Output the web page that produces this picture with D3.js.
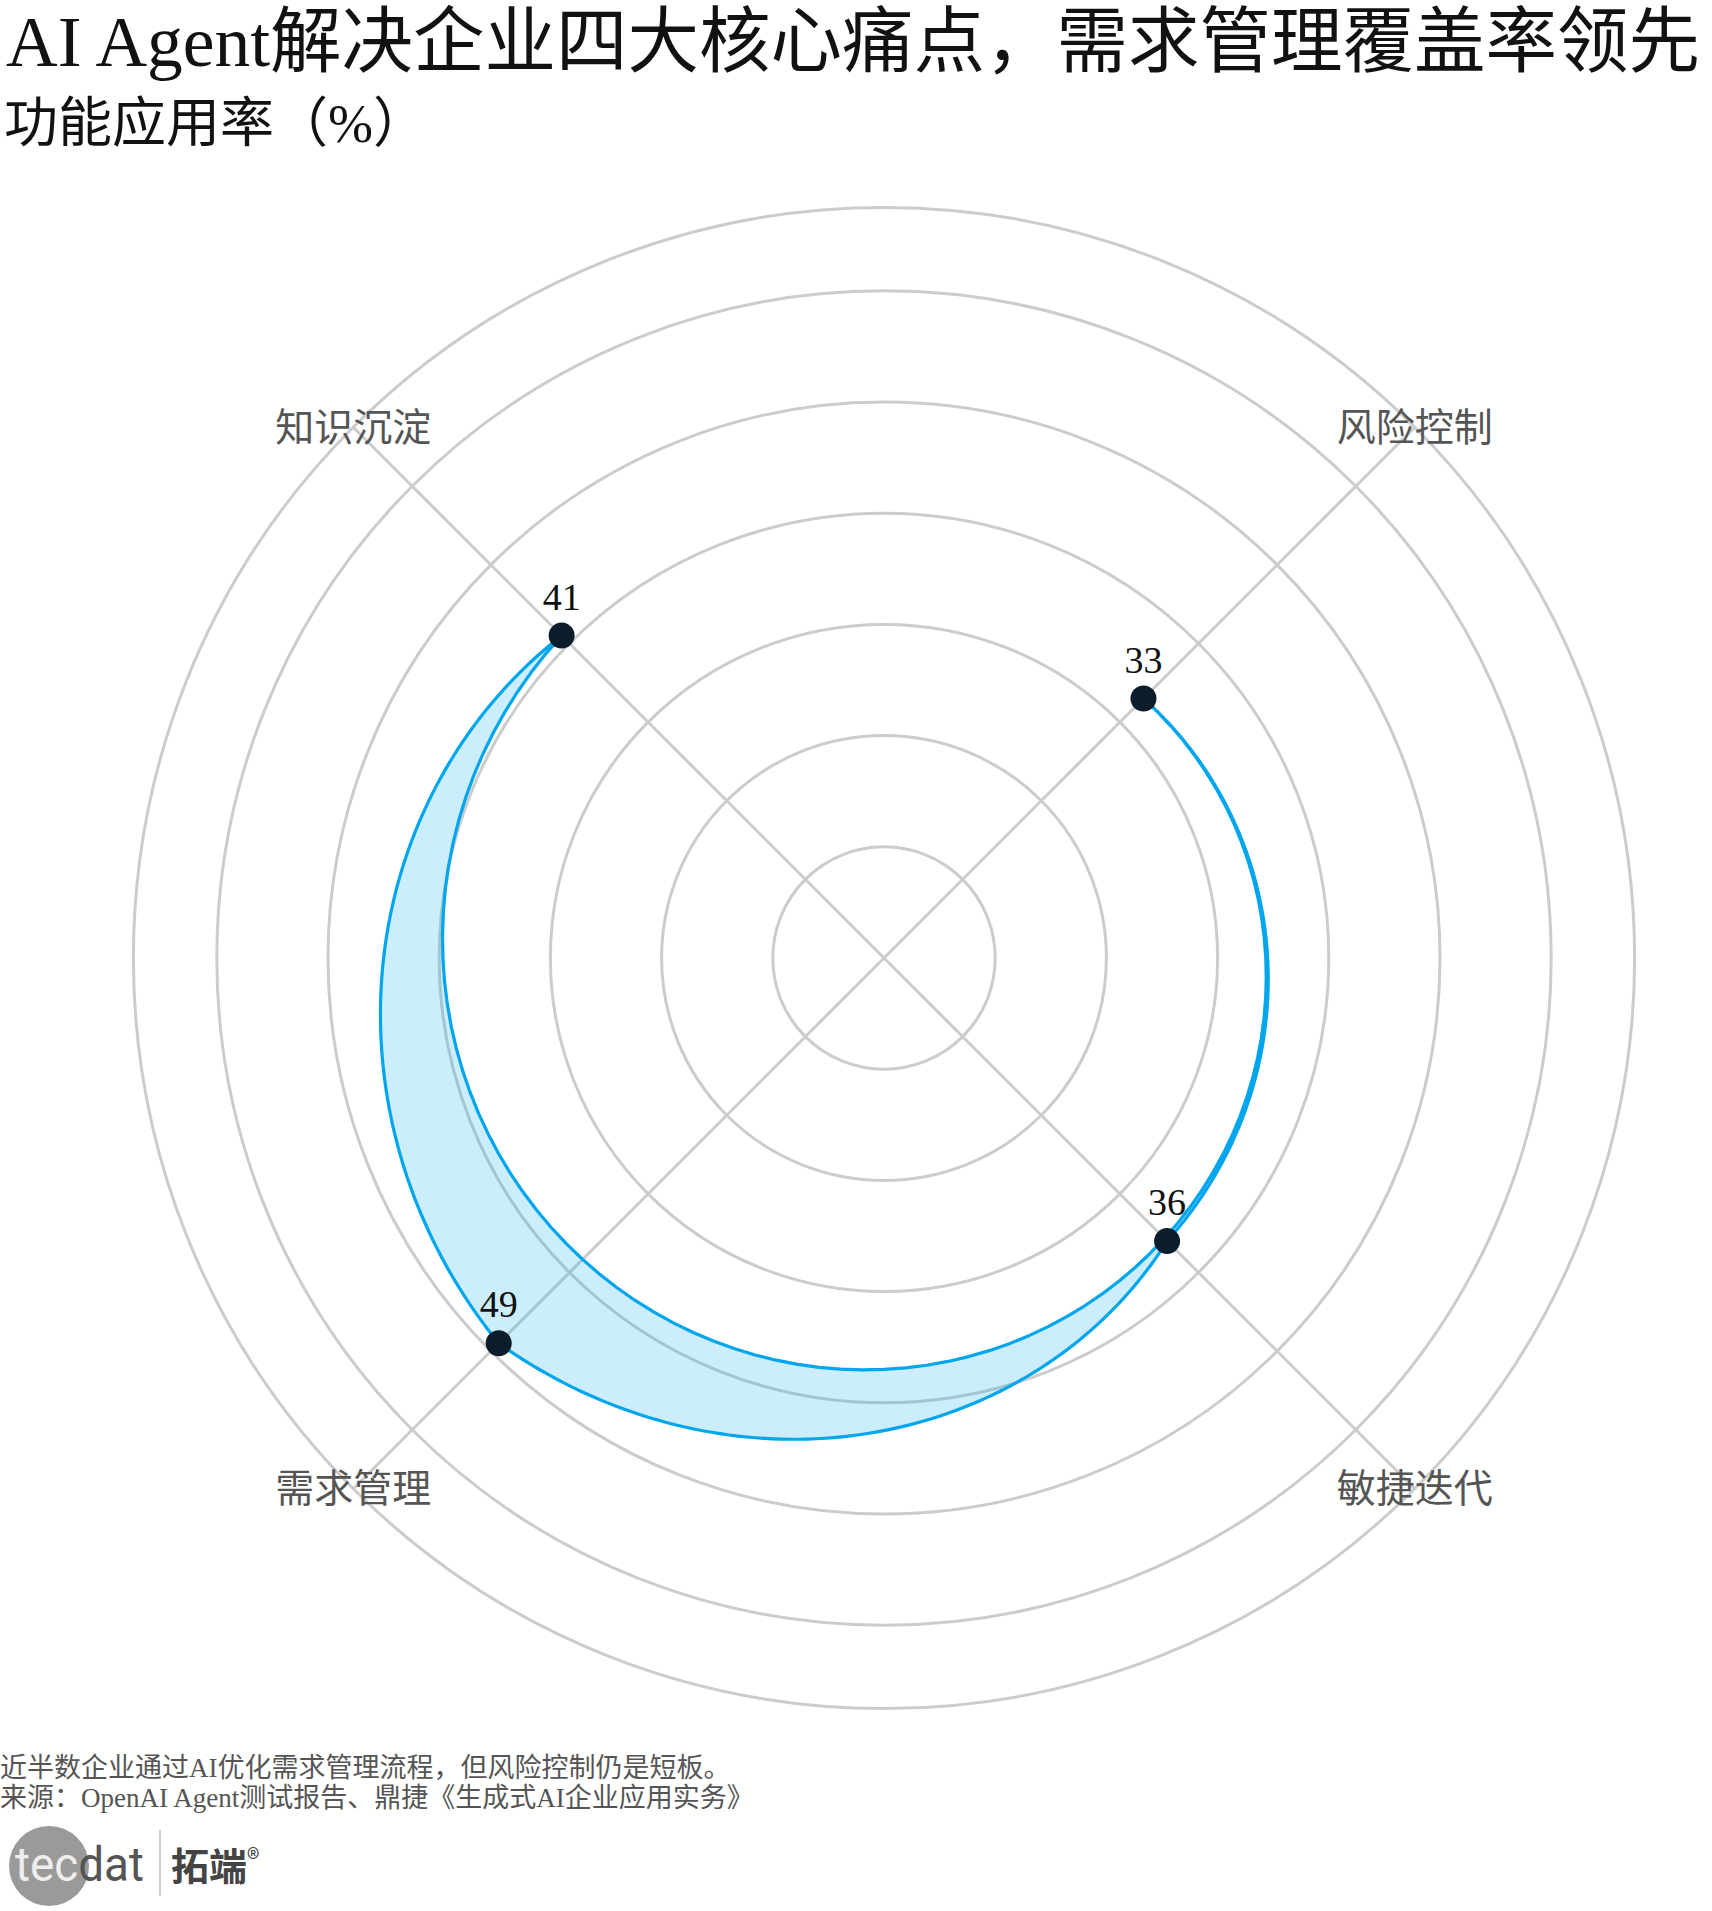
<!DOCTYPE html>
<html>
<head>
<meta charset="utf-8">
<script src="https://cdn.jsdelivr.net/npm/d3@7"></script>
<style>
  html, body { margin: 0; padding: 0; background: #ffffff; }
  svg { display: block; }
</style>
</head>
<body>
<div id="chart"></div>
<script>
// ---- data ----
const categories = ["风险控制", "敏捷迭代", "需求管理", "知识沉淀"];
const values = [33, 36, 49, 41];
const gridTicks = [10, 20, 30, 40, 50, 60];
const radialMax = 67.5;
const titleText = "AI Agent解决企业四大核心痛点，需求管理覆盖率领先";
const subtitleText = "功能应用率（%）";
const footnoteLines = [
  "近半数企业通过AI优化需求管理流程，但风险控制仍是短板。",
  "来源：OpenAI Agent测试报告、鼎捷《生成式AI企业应用实务》"
];

// ---- layout ----
const W = 1712, H = 1911;
const cx = 884, cy = 958;
const outerR = 750.6;
const serifFont = '"Liberation Serif", "Noto Sans CJK SC", serif';
const blue = "#00a6ed";

const svg = d3.select("#chart").append("svg")
  .attr("width", W).attr("height", H)
  .attr("viewBox", `0 0 ${W} ${H}`);

// titles
svg.append("text").attr("x", 6).attr("y", 66)
  .attr("font-family", serifFont).attr("font-size", 71.5).attr("fill", "#111")
  .text(titleText);
svg.append("text").attr("x", 4).attr("y", 142)
  .attr("font-family", serifFont).attr("font-size", 54).attr("fill", "#111")
  .text(subtitleText);

// scales
const r = d3.scaleLinear().domain([0, radialMax]).range([0, outerR]);
const n = categories.length;
const theta = d3.scaleLinear().domain([0, n]).range([0, 2 * Math.PI]);

const g = svg.append("g").attr("transform", `translate(${cx},${cy})`);

// grid circles
g.selectAll("circle.grid")
  .data(gridTicks.concat([radialMax]))
  .join("circle")
  .attr("class", "grid")
  .attr("r", d => r(d))
  .attr("fill", "none")
  .attr("stroke", "#cccccc")
  .attr("stroke-width", 3);

// spokes
const pos = categories.map((c, i) => i + 0.5);
g.selectAll("line.spoke")
  .data(pos)
  .join("line")
  .attr("class", "spoke")
  .attr("x1", 0).attr("y1", 0)
  .attr("x2", d => Math.sin(theta(d)) * r(radialMax))
  .attr("y2", d => -Math.cos(theta(d)) * r(radialMax))
  .attr("stroke", "#cccccc")
  .attr("stroke-width", 3);

// polygon in polar data space (munched like coord_polar): 1→2→3→4→back to 1
const order = d3.range(n).concat([0]);
const munched = [];
const steps = 90;
for (let k = 0; k < order.length - 1; k++) {
  const a = order[k], b = order[k + 1];
  const xa = pos[a], xb = pos[b];
  const va = values[a], vb = values[b];
  for (let s = 0; s < steps; s++) {
    const t = s / steps;
    munched.push({ x: xa + (xb - xa) * t, v: va + (vb - va) * t });
  }
}
munched.push({ x: pos[0], v: values[0] });

const radial = d3.lineRadial()
  .angle(d => theta(d.x))
  .radius(d => r(d.v))
  .curve(d3.curveLinear);

g.append("path")
  .attr("d", radial(munched) + "Z")
  .attr("fill", blue)
  .attr("fill-opacity", 0.2)
  .attr("stroke", blue)
  .attr("stroke-width", 3.2)
  .attr("stroke-linejoin", "round");

// points
const pts = categories.map((c, i) => ({ c, v: values[i], x: pos[i] }));
g.selectAll("circle.pt")
  .data(pts)
  .join("circle")
  .attr("class", "pt")
  .attr("cx", d => Math.sin(theta(d.x)) * r(d.v))
  .attr("cy", d => -Math.cos(theta(d.x)) * r(d.v))
  .attr("r", 13)
  .attr("fill", "#0b1c2b");

// value labels
g.selectAll("text.val")
  .data(pts)
  .join("text")
  .attr("class", "val")
  .attr("x", d => Math.sin(theta(d.x)) * r(d.v))
  .attr("y", d => -Math.cos(theta(d.x)) * r(d.v) - 26)
  .attr("text-anchor", "middle")
  .attr("font-family", serifFont)
  .attr("font-size", 38)
  .attr("fill", "#111")
  .text(d => d.v);

// category labels
g.selectAll("text.cat")
  .data(pts)
  .join("text")
  .attr("class", "cat")
  .attr("x", d => Math.sin(theta(d.x)) * r(radialMax))
  .attr("y", d => -Math.cos(theta(d.x)) * r(radialMax))
  .attr("text-anchor", "middle")
  .attr("dominant-baseline", "central")
  .attr("font-family", serifFont)
  .attr("font-size", 39)
  .attr("fill", "#555")
  .text(d => d.c);

// footnotes
svg.selectAll("text.foot")
  .data(footnoteLines)
  .join("text")
  .attr("class", "foot")
  .attr("x", 0)
  .attr("y", (d, i) => 1777 + i * 30)
  .attr("font-family", serifFont)
  .attr("font-size", 27)
  .attr("fill", "#555")
  .text(d => d);

// logo
const logo = svg.append("g");
logo.append("circle").attr("cx", 49).attr("cy", 1866).attr("r", 40).attr("fill", "#9a9a9a");
const lt = logo.append("text").attr("x", 15).attr("y", 1881)
  .attr("font-family", "Roboto, 'Open Sans', sans-serif")
  .attr("font-size", 48)
  .attr("textLength", 129).attr("lengthAdjust", "spacingAndGlyphs");
lt.append("tspan").attr("fill", "#eeeeee").text("tec");
lt.append("tspan").attr("fill", "#555555").text("dat");
logo.append("line").attr("x1", 160).attr("x2", 160).attr("y1", 1830).attr("y2", 1896)
  .attr("stroke", "#cccccc").attr("stroke-width", 2);
const bt = logo.append("text").attr("x", 171).attr("y", 1880)
  .attr("font-family", "'Noto Sans CJK SC', sans-serif")
  .attr("font-weight", "bold")
  .attr("font-size", 38)
  .attr("fill", "#444");
bt.append("tspan").text("拓端");
bt.append("tspan").attr("font-size", 26).attr("dy", -12).attr("font-weight", "normal").text("®");
</script>
</body>
</html>
